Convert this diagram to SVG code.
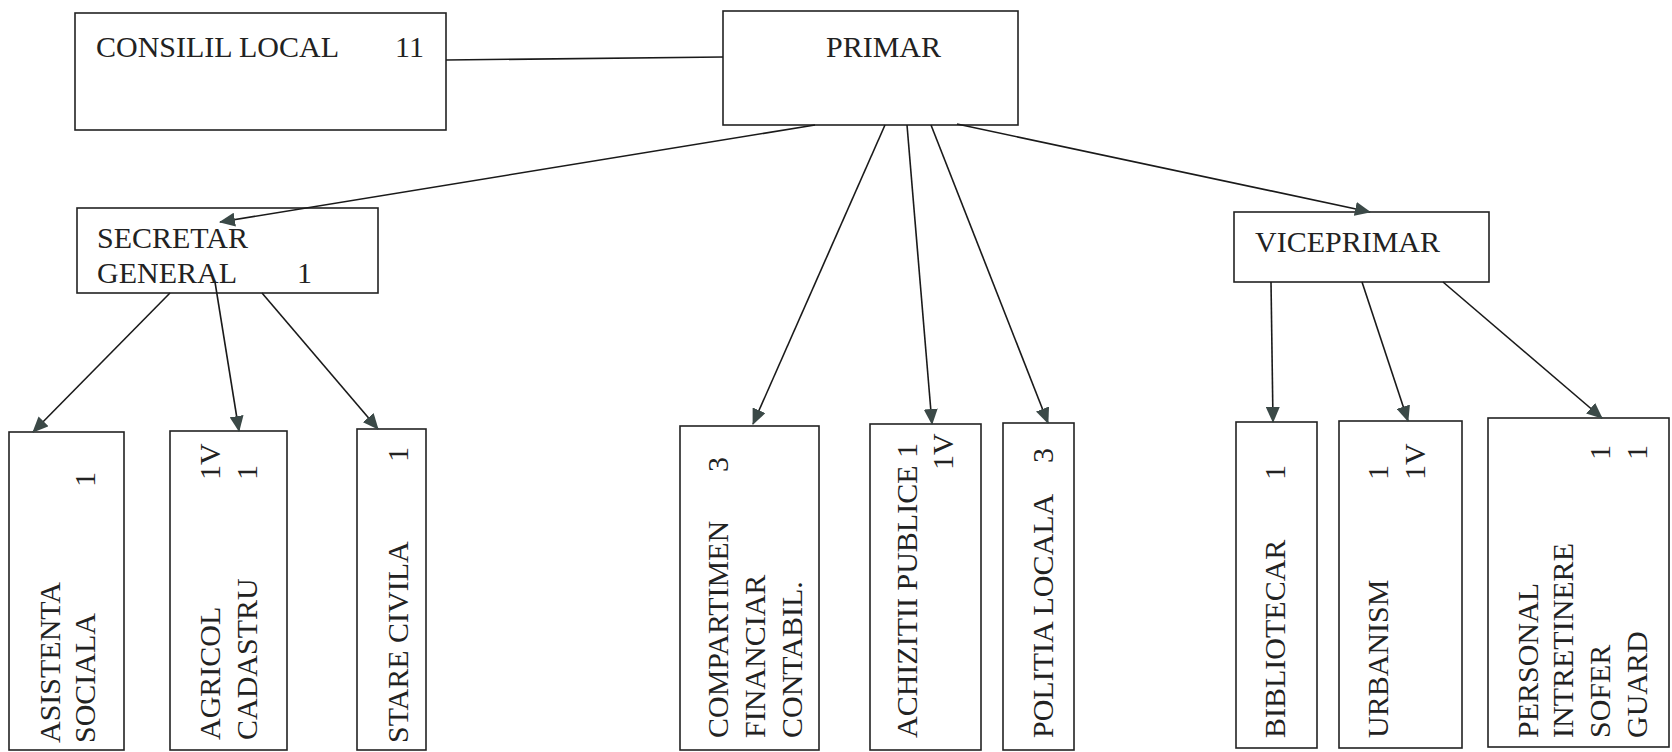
<svg xmlns="http://www.w3.org/2000/svg" width="1672" height="752" viewBox="0 0 1672 752">
<defs>
<marker id="arr" markerUnits="userSpaceOnUse" markerWidth="16" markerHeight="14" refX="15" refY="7" orient="auto">
<path d="M0,0 L16,7 L0,14 z" fill="#3b4947"/>
</marker>
<style>
.box{fill:#fff;stroke:#222;stroke-width:1.6}
.t{font-family:"Liberation Serif","Times New Roman",serif;font-size:30px;fill:#222}
.c line{stroke:#1a1a1a;stroke-width:1.6}
.a{marker-end:url(#arr)}
</style>
</defs>
<rect width="1672" height="752" fill="#fff"/>

<g id="consiliu">
<rect class="box" x="75" y="13" width="371" height="117"/>
<text class="t" x="96" y="57">CONSILIL LOCAL</text>
<text class="t" x="395" y="57">11</text>
</g>
<g id="primar">
<rect class="box" x="723" y="11" width="295" height="114"/>
<text class="t" x="826" y="57">PRIMAR</text>
</g>
<g id="secretar">
<rect class="box" x="77" y="208" width="301" height="85"/>
<text class="t" x="97" y="248">SECRETAR</text>
<text class="t" x="97" y="283">GENERAL</text>
<text class="t" x="297" y="283">1</text>
</g>
<g id="viceprimar">
<rect class="box" x="1234" y="212" width="255" height="70"/>
<text class="t" x="1255" y="252">VICEPRIMAR</text>
</g>

<g id="asistenta">
<rect class="box" x="9" y="432" width="115" height="318"/>
<text class="t" transform="translate(60,743) rotate(-90)">ASISTENTA</text>
<text class="t" transform="translate(95,743) rotate(-90)">SOCIALA</text>
<text class="t" transform="translate(95,487) rotate(-90)">1</text>
</g>
<g id="agricol">
<rect class="box" x="170" y="431" width="117" height="319"/>
<text class="t" transform="translate(220,740) rotate(-90)">AGRICOL</text>
<text class="t" transform="translate(257,740) rotate(-90)">CADASTRU</text>
<text class="t" transform="translate(220,480) rotate(-90)">1V</text>
<text class="t" transform="translate(257,480) rotate(-90)">1</text>
</g>
<g id="stare">
<rect class="box" x="357" y="429" width="69" height="321"/>
<text class="t" transform="translate(408,743) rotate(-90)">STARE CIVILA</text>
<text class="t" transform="translate(408,462) rotate(-90)">1</text>
</g>
<g id="compartiment">
<rect class="box" x="680" y="426" width="139" height="324"/>
<text class="t" transform="translate(728,738) rotate(-90)">COMPARTIMEN</text>
<text class="t" transform="translate(765,738) rotate(-90)">FINANCIAR</text>
<text class="t" transform="translate(802,738) rotate(-90)">CONTABIL.</text>
<text class="t" transform="translate(728,472) rotate(-90)">3</text>
</g>
<g id="achizitii">
<rect class="box" x="870" y="424" width="111" height="326"/>
<text class="t" transform="translate(917,738) rotate(-90)">ACHIZITII PUBLICE 1</text>
<text class="t" transform="translate(953,470) rotate(-90)">1V</text>
</g>
<g id="politia">
<rect class="box" x="1003" y="423" width="71" height="327"/>
<text class="t" transform="translate(1053,738) rotate(-90)">POLITIA LOCALA</text>
<text class="t" transform="translate(1053,463) rotate(-90)">3</text>
</g>
<g id="bibliotecar">
<rect class="box" x="1236" y="422" width="81" height="326"/>
<text class="t" transform="translate(1285,738) rotate(-90)">BIBLIOTECAR</text>
<text class="t" transform="translate(1285,480) rotate(-90)">1</text>
</g>
<g id="urbanism">
<rect class="box" x="1339" y="421" width="123" height="327"/>
<text class="t" transform="translate(1388,738) rotate(-90)">URBANISM</text>
<text class="t" transform="translate(1388,480) rotate(-90)">1</text>
<text class="t" transform="translate(1425,480) rotate(-90)">1V</text>
</g>
<g id="personal">
<rect class="box" x="1488" y="418" width="181" height="329"/>
<text class="t" transform="translate(1538,738) rotate(-90)">PERSONAL</text>
<text class="t" transform="translate(1573,738) rotate(-90)">INTRETINERE</text>
<text class="t" transform="translate(1610,738) rotate(-90)">SOFER</text>
<text class="t" transform="translate(1647,738) rotate(-90)">GUARD</text>
<text class="t" transform="translate(1610,460) rotate(-90)">1</text>
<text class="t" transform="translate(1647,460) rotate(-90)">1</text>
</g>

<g id="connectors" class="c">
<line x1="446" y1="60" x2="723" y2="57"/>
<line class="a" x1="815" y1="125" x2="220" y2="222"/>
<line class="a" x1="885" y1="125" x2="753" y2="424"/>
<line class="a" x1="907" y1="125" x2="932" y2="424"/>
<line class="a" x1="931" y1="125" x2="1048" y2="423"/>
<line class="a" x1="957" y1="124" x2="1370" y2="212"/>
<line class="a" x1="170" y1="293" x2="33" y2="432"/>
<line class="a" x1="215" y1="282" x2="239" y2="431"/>
<line class="a" x1="262" y1="293" x2="378" y2="429"/>
<line class="a" x1="1271" y1="282" x2="1273" y2="422"/>
<line class="a" x1="1362" y1="282" x2="1408" y2="421"/>
<line class="a" x1="1443" y1="282" x2="1602" y2="418"/>
</g>
</svg>
